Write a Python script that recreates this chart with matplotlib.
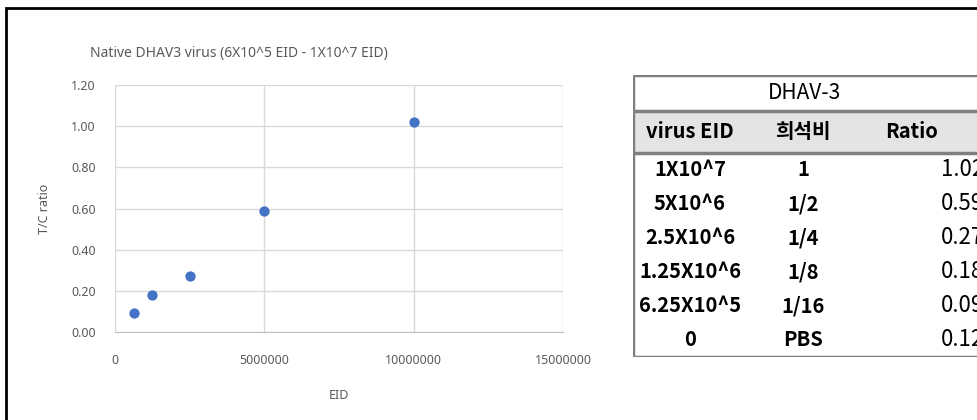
import matplotlib
matplotlib.use("Agg")
from matplotlib import pyplot as plt
from matplotlib.patches import Rectangle

# scatter data: virus dose (EID) vs T/C ratio
eid = [625000, 1250000, 2500000, 5000000, 10000000]
tc_ratio = [0.09, 0.18, 0.27, 0.59, 1.02]

# summary table
table_title = "DHAV-3"
table_header = ["virus EID", "희석비", "Ratio"]
virus_eid = ["1X10^7", "5X10^6", "2.5X10^6", "1.25X10^6", "6.25X10^5", "0"]
dilution = ["1", "1/2", "1/4", "1/8", "1/16", "PBS"]
ratio = ["1.02", "0.59", "0.27", "0.18", "0.09", "0.12"]

W, H = 977, 420
GRAY = "#595959"
BLUE = "#4472C4"
LAT = ["Noto Sans", "DejaVu Sans"]
KR = ["Noto Sans CJK KR", "DejaVu Sans"]

plt.rcParams["font.family"] = LAT

fig = plt.figure(figsize=(W / 100, H / 100), dpi=100)
fig.patch.set_facecolor("white")


def fx(px):
    return px / W


def fy(py):
    return 1 - py / H


# outer frame (only top and left edges fall inside the image)
fig.add_artist(Rectangle((fx(6), fy(H + 20)), 2, fy(8) - fy(H + 20),
                         transform=fig.transFigure, fill=False,
                         edgecolor="black", linewidth=2))

# ---- scatter chart ----
ax = fig.add_axes([fx(115), fy(332), fx(563) - fx(115), fy(85) - fy(332)])
ax.scatter(eid, tc_ratio, s=55, color=BLUE, zorder=3, linewidths=0)
ax.set_xlim(0, 15000000)
ax.set_ylim(0, 1.2)
ax.set_xticks([0, 5000000, 10000000, 15000000])
ax.set_xticklabels(["0", "5000000", "10000000", "15000000"])
ax.set_yticks([0, 0.2, 0.4, 0.6, 0.8, 1.0, 1.2])
ax.set_yticklabels([f"{v:.2f}" for v in ax.get_yticks()])
ax.grid(True, color="#d9d9d9", linewidth=1)
ax.set_axisbelow(True)
for side in ["top", "right", "left"]:
    ax.spines[side].set_visible(False)
ax.spines["bottom"].set_color("#bfbfbf")
ax.tick_params(length=0, labelsize=9, colors=GRAY)
ax.tick_params(axis="y", pad=14)
ax.tick_params(axis="x", pad=16)
ax.set_xlabel("EID", fontsize=9, color=GRAY, labelpad=16)
ax.set_ylabel("T/C ratio", fontsize=9, color=GRAY, labelpad=14)
fig.text(fx(90), fy(53), "Native DHAV3 virus (6X10^5 EID - 1X10^7 EID)",
         fontsize=10, color=GRAY, va="center", ha="left")

# ---- table ----
tax = fig.add_axes([fx(633), fy(357), fx(1000) - fx(633), fy(75) - fy(357)])
tax.set_xlim(0, 367)
tax.set_ylim(282, 0)
tax.axis("off")

row_h = 34
title_bottom = 36
head_bottom = 78
col_x = [57, 170, 279]
ratio_right = 351
line_kw = dict(color="#7f7f7f", linewidth=2.5, solid_capstyle="butt")

tax.add_patch(Rectangle((0, title_bottom), 400, head_bottom - title_bottom,
                        facecolor="#e4e4e4", edgecolor="none"))
tax.plot([0, 400], [0, 0], **line_kw)
tax.plot([0, 400], [title_bottom, title_bottom], **line_kw)
tax.plot([0, 400], [head_bottom, head_bottom], **line_kw)
tax.plot([0, 0], [0, head_bottom + row_h * len(virus_eid)], **line_kw)
tax.plot([0, 400], [head_bottom + row_h * len(virus_eid)] * 2, **line_kw)

tfs = 14.5
tax.text(172, title_bottom / 2, table_title, ha="center", va="center",
         fontsize=15, family=KR, weight="medium", color="black")
for x, label in zip(col_x, table_header):
    tax.text(x, (title_bottom + head_bottom) / 2, label, ha="center",
             va="center", fontsize=tfs, family=KR, weight="bold", color="black")

for i, (e, d, r) in enumerate(zip(virus_eid, dilution, ratio)):
    yc = head_bottom + row_h * (i + 0.5)
    tax.text(col_x[0], yc, e, ha="center", va="center", fontsize=tfs,
             family=KR, weight="bold", color="black")
    tax.text(col_x[1], yc, d, ha="center", va="center", fontsize=tfs,
             family=KR, weight="bold", color="black")
    tax.text(ratio_right, yc, r, ha="right", va="center", fontsize=16,
             family=KR, color="black")

fig.savefig("out.png", dpi=100, facecolor="white")
